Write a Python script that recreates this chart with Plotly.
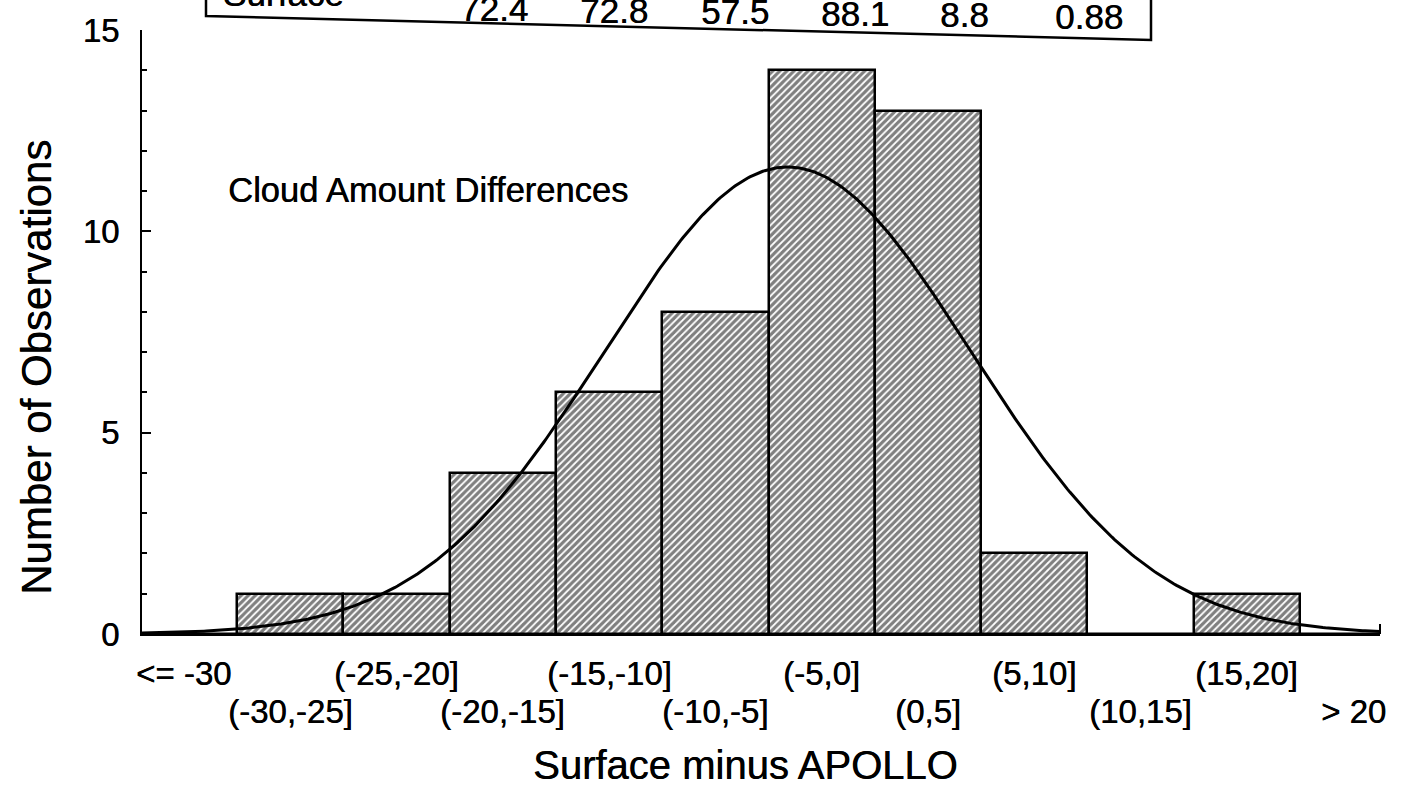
import numpy as np
import plotly.graph_objects as go

# ---- histogram data -------------------------------------------------------
bin_labels = ["<= -30", "(-30,-25]", "(-25,-20]", "(-20,-15]", "(-15,-10]", "(-10,-5]",
              "(-5,0]", "(0,5]", "(5,10]", "(10,15]", "(15,20]", "> 20"]
bin_centers = [-32.5, -27.5, -22.5, -17.5, -12.5, -7.5, -2.5, 2.5, 7.5, 12.5, 17.5, 22.5]
counts = [0, 1, 1, 4, 6, 8, 14, 13, 2, 0, 1, 0]
bin_width = 5.0

# parameters of the fitted normal curve
fit_mean = -4.1
fit_sd = 8.6

# summary row of the table above the chart
table_row_label = "Surface"
table_values = ["72.4", "72.8", "57.5", "88.1", "8.8", "0.88"]

# ---- normal curve scaled to the histogram ---------------------------------
n_obs = float(sum(counts))
X_LO, X_HI = -34.47, 23.76
xs = np.linspace(X_LO, X_HI, 500)
ys = (n_obs * bin_width * np.exp(-0.5 * ((xs - fit_mean) / fit_sd) ** 2)
      / (fit_sd * np.sqrt(2 * np.pi)))

# ---- page geometry -------------------------------------------------------
W, H = 1415, 795
PL, PR, PT, PB = 142, 1380, 30, 634          # plot-area edges in pixels


def px_x(px):
    return (px - PL) / (PR - PL)


def px_y(py):
    return (PB - py) / (PB - PT)


FONT = "Liberation Sans, Arial, Helvetica, sans-serif"
INK = "0.5px 0 0 black"                      # slightly heavier glyph strokes


def font(size):
    return dict(size=size, color="black", family=FONT, shadow=INK)


fig = go.Figure()

fig.add_trace(go.Bar(
    x=bin_centers, y=counts, width=bin_width,
    marker=dict(color="white", line=dict(color="black", width=2.5),
                pattern=dict(shape="/", fgcolor="black", bgcolor="white",
                             size=5, solidity=0.65)),
    showlegend=False, hoverinfo="skip",
))

fig.add_trace(go.Scatter(
    x=xs, y=ys, mode="lines", line=dict(color="black", width=3),
    showlegend=False, hoverinfo="skip",
))

annotations = []

# staggered category labels under the axis
for i, (lab, xc) in enumerate(zip(bin_labels, bin_centers)):
    row_y = 673 if i % 2 == 0 else 712
    annotations.append(dict(
        x=xc, xref="x", y=px_y(row_y), yref="paper", text=lab, showarrow=False,
        xanchor="center", yanchor="middle", font=font(33),
    ))

annotations += [
    dict(x=px_x(745), xref="paper", y=px_y(765), yref="paper", text="Surface minus APOLLO",
         showarrow=False, xanchor="center", yanchor="middle", font=font(40)),
    dict(x=px_x(36), xref="paper", y=px_y(368), yref="paper", text="Number of Observations",
         textangle=-90, showarrow=False, xanchor="center", yanchor="middle", font=font(42)),
    dict(x=px_x(226), xref="paper", y=px_y(190), yref="paper", text="Cloud Amount Differences",
         showarrow=False, xanchor="left", yanchor="middle", font=font(34.5)),
]

# table row running off the top edge of the page
annotations.append(dict(
    x=px_x(221), xref="paper", y=px_y(15), yref="paper", text=table_row_label,
    showarrow=False, xanchor="left", yanchor="bottom", font=font(35),
))
value_x = [494, 614, 735, 855, 964, 1089]
for j, (txt, vx) in enumerate(zip(table_values, value_x)):
    base = 22 + 1.6 * j
    annotations.append(dict(
        x=px_x(vx), xref="paper", y=px_y(base + 8), yref="paper", text=txt,
        showarrow=False, xanchor="center", yanchor="bottom", font=font(35),
    ))

shapes = [
    # table frame (left, bottom, right edges)
    dict(type="path", xref="paper", yref="paper", line=dict(color="black", width=2.5),
         path=f"M {px_x(206)},{px_y(-5)} L {px_x(206)},{px_y(16)} "
              f"L {px_x(1151)},{px_y(40)} L {px_x(1151)},{px_y(-5)}"),
    # end cap of the x axis
    dict(type="line", xref="paper", yref="paper", x0=1, x1=1, y0=0, y1=px_y(PB - 10),
         line=dict(color="black", width=2)),
]

fig.update_layout(
    width=W, height=H,
    margin=dict(l=PL, r=W - PR, t=PT, b=H - PB),
    paper_bgcolor="white", plot_bgcolor="white",
    bargap=0,
    annotations=annotations, shapes=shapes,
    font=dict(family=FONT, color="black"),
)

fig.update_xaxes(range=[X_LO, X_HI], showline=True, linecolor="black", linewidth=2,
                 showticklabels=False, ticks="", showgrid=False, zeroline=False)
fig.update_yaxes(range=[0, 15], showline=True, linecolor="black", linewidth=2,
                 tickvals=[0, 5, 10, 15], ticks="inside", ticklen=9, tickwidth=2,
                 tickcolor="black", ticklabelstandoff=14,
                 tickfont=font(33),
                 minor=dict(ticks="inside", ticklen=5, tickwidth=1.5, dtick=1,
                            tickcolor="black", showgrid=False),
                 showgrid=False, zeroline=False)

fig.write_html("out.html")
